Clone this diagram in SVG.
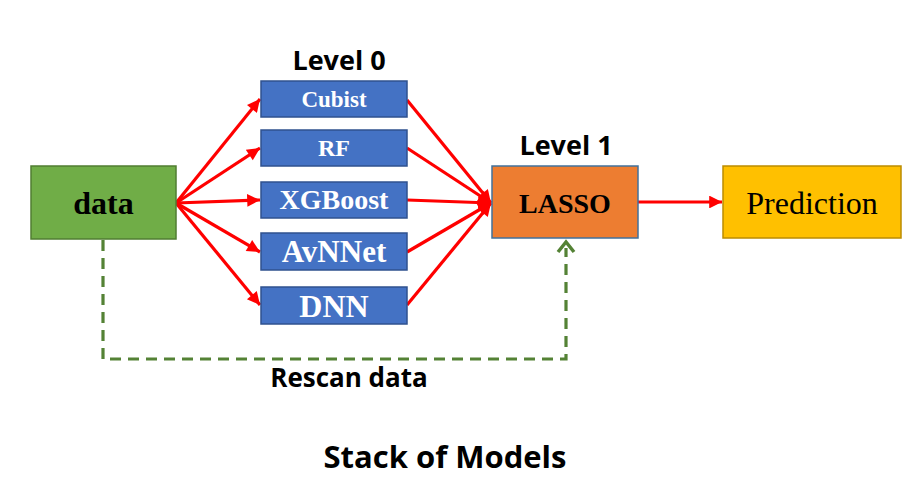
<svg xmlns="http://www.w3.org/2000/svg" width="916" height="488" viewBox="0 0 916 488">
<style>
.blue{fill:#4472C4;stroke:#2F528F;stroke-width:1.5}
.wt{fill:#fff;font-family:"Liberation Serif",serif;font-weight:bold;text-anchor:middle}
.bt{fill:#000;font-family:"Liberation Serif",serif;text-anchor:middle}
.cal{fill:#000;font-family:"Open Sans","Noto Sans",sans-serif;font-weight:bold;text-anchor:middle}
.red{stroke:#FF0000;stroke-width:3.2;fill:none;marker-end:url(#ah)}
.dash{stroke:#548235;stroke-width:3.2;fill:none;stroke-dasharray:11 7}
</style>
<defs>
<marker id="ah" viewBox="0 0 10 10" refX="10" refY="5" markerWidth="4.5" markerHeight="4" orient="auto" markerUnits="strokeWidth">
<path d="M0,0 L10,5 L0,10 z" fill="#FF0000"/>
</marker>
</defs>
<rect width="916" height="488" fill="#fff"/>
<text class="cal" x="339" y="70" font-size="27">Level 0</text>
<text class="cal" x="566" y="155" font-size="27">Level 1</text>
<g id="connectors">
<line class="red" x1="176" y1="203" x2="260" y2="99"/>
<line class="red" x1="176" y1="203" x2="260" y2="148"/>
<line class="red" x1="176" y1="203" x2="260" y2="200"/>
<line class="red" x1="176" y1="203" x2="260" y2="252"/>
<line class="red" x1="176" y1="203" x2="260" y2="305"/>
<line class="red" x1="407" y1="100" x2="491" y2="203"/>
<line class="red" x1="407" y1="148" x2="491" y2="203"/>
<line class="red" x1="407" y1="200" x2="491" y2="203"/>
<line class="red" x1="407" y1="252" x2="491" y2="203"/>
<line class="red" x1="407" y1="305" x2="491" y2="203"/>
<line class="red" x1="638" y1="202" x2="722" y2="202"/>
<polyline class="dash" points="103,240 103,359 566,359 566,248"/>
<polyline points="558,252 566,242 574,252" fill="none" stroke="#548235" stroke-width="3.5"/>
<text class="cal" x="349" y="387" font-size="26">Rescan data</text>
</g>
<g id="data">
<rect x="31" y="166" width="145" height="73" fill="#70AD47" stroke="#507E32" stroke-width="1.5"/>
<text class="bt" x="103.5" y="214" font-size="32" font-weight="bold">data</text>
</g>
<g id="cubist">
<rect class="blue" x="261" y="81" width="146" height="36"/>
<text class="wt" x="334" y="107" font-size="23">Cubist</text>
</g>
<g id="rf">
<rect class="blue" x="261" y="130" width="146" height="36"/>
<text class="wt" x="334" y="156" font-size="24">RF</text>
</g>
<g id="xgboost">
<rect class="blue" x="261" y="182" width="146" height="36"/>
<text class="wt" x="334" y="209" font-size="28">XGBoost</text>
</g>
<g id="avnnet">
<rect class="blue" x="261" y="233" width="146" height="37"/>
<text class="wt" x="334" y="262" font-size="31">AvNNet</text>
</g>
<g id="dnn">
<rect class="blue" x="261" y="287" width="146" height="37"/>
<text class="wt" x="334" y="317" font-size="32">DNN</text>
</g>
<g id="lasso">
<rect x="492" y="166" width="146" height="72" fill="#ED7D31" stroke="#41719C" stroke-width="1.5"/>
<text class="bt" x="565" y="213" font-size="28" font-weight="bold">LASSO</text>
</g>
<g id="prediction">
<rect x="723" y="166" width="178" height="72" fill="#FFC000" stroke="#BC8C00" stroke-width="1.5"/>
<text class="bt" x="812" y="214" font-size="32">Prediction</text>
</g>
<text class="cal" x="445" y="468" font-size="31">Stack of Models</text>
</svg>
